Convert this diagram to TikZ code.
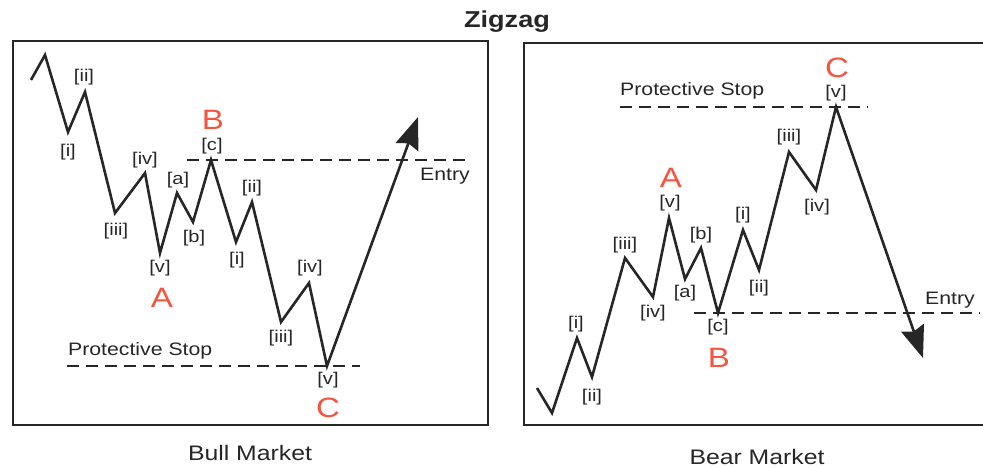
\documentclass[tikz,border=0pt]{standalone}
\usepackage{fontspec}
\setmainfont{Liberation Sans}[FakeStretch=1.18]
\usepackage{tikz}
\usetikzlibrary{arrows.meta}
\usepackage{tkz-euclide}

\definecolor{wavered}{RGB}{244,84,64}
\definecolor{inkgray}{RGB}{38,38,38}

\tikzset{
  wave/.style={line width=2.6pt, draw=inkgray, -{Stealth[length=32pt,width=24pt,inset=4pt]}},
  level/.style={line width=1.9pt, draw=inkgray, dash pattern=on 12pt off 7pt},
  panel/.style={line width=2.2pt, draw=inkgray},
  count/.style={text=inkgray, font=\fontsize{17}{17}\selectfont, inner sep=0pt},
  wavename/.style={text=wavered, font=\fontsize{28}{28}\selectfont, inner sep=0pt},
  note/.style={text=inkgray, font=\fontsize{18}{18}\selectfont, inner sep=0pt},
  market/.style={text=inkgray, font=\fontsize{21}{21}\selectfont, inner sep=0pt},
}

\begin{document}
\begin{tikzpicture}[x=1pt, y=-1pt]
                \useasboundingbox (0,0) rectangle (983,468);
                % bull market points
                \tkzDefPoints{31/80/L0, 45/55/L1, 68/132/Li, 85/92/Lii, 115/213/Liii, 145/173/Liv, 160/253/LA,
                  177/193/La, 193/222/Lb, 211/160/LB, 236/242/Lci, 252/202/Lcii, 281/322/Lciii, 309/283/Lciv,
                  327/366/LC, 418/117/Lend}
                % bear market points
                \tkzDefPoints{537/388/R0, 552/413/R1, 577/338/Ri, 592/377/Rii, 625/258/Riii, 653/297/Riv, 669/218/RA,
                  685/279/Ra, 701/248/Rb, 718/313/RB, 743/230/Rci, 759/270/Rcii, 789/152/Rciii, 816/190/Rciv,
                  836/107/RC, 923/358/Rend}
                \tkzDefPoints{187/160/Ls, 470/160/Le, 67/366/Lp, 360/366/Lq,
                  694/313/Rs, 980/313/Re, 620/107/Rp, 868/107/Rq}
                \tkzDefPoints{983/43/Rtr, 524/43/Rtl, 524/425/Rbl, 983/425/Rbr}

                \node[text=inkgray, font=\bfseries\fontsize{23}{23}\selectfont, inner sep=0pt] (title) at (507,22) {Zigzag};
                \draw[panel] (13,41) rectangle (488,425);
                \draw[panel] (Rtr) -- (Rtl) -- (Rbl) -- (Rbr);

                % bull market
                \draw[level] (Ls) -- (Le);
                \draw[level] (Lp) -- (Lq);
                \draw[wave] (L0) -- (L1) -- (Li) -- (Lii) -- (Liii) -- (Liv) -- (LA) -- (La) -- (Lb) -- (LB)
                  -- (Lci) -- (Lcii) -- (Lciii) -- (Lciv) -- (LC) -- (Lend);
                \node[count] (bulli) at (68,152) {[i]};
                \node[count] (bullii) at (84,77) {[ii]};
                \node[count] (bulliii) at (116,231) {[iii]};
                \node[count] (bulliv) at (145,160) {[iv]};
                \node[count] (bullv) at (160,268) {[v]};
                \node[count] (bulla) at (178,180) {[a]};
                \node[count] (bullb) at (194,238) {[b]};
                \node[count] (bullc) at (212,146) {[c]};
                \node[count] (bullci) at (237,260) {[i]};
                \node[count] (bullcii) at (252,188) {[ii]};
                \node[count] (bullciii) at (281,338) {[iii]};
                \node[count] (bullciv) at (310,268) {[iv]};
                \node[count] (bullcv) at (328,380) {[v]};
                \node[wavename] (bullA) at (162,298) {A};
                \node[wavename] (bullB) at (213,120) {B};
                \node[wavename] (bullC) at (328,408) {C};
                \node[note] (bullentry) at (445,176) {Entry};
                \node[note, anchor=west] (bullstop) at (68,351) {Protective Stop};
                \node[market] (bull) at (250,453) {Bull Market};

                % bear market
                \draw[level] (Rs) -- (Re);
                \draw[level] (Rp) -- (Rq);
                \draw[wave] (R0) -- (R1) -- (Ri) -- (Rii) -- (Riii) -- (Riv) -- (RA) -- (Ra) -- (Rb) -- (RB)
                  -- (Rci) -- (Rcii) -- (Rciii) -- (Rciv) -- (RC) -- (Rend);
                \node[count] (beari) at (576,324) {[i]};
                \node[count] (bearii) at (592,397) {[ii]};
                \node[count] (beariii) at (625,245) {[iii]};
                \node[count] (beariv) at (653,313) {[iv]};
                \node[count] (bearv) at (670,203) {[v]};
                \node[count] (beara) at (685,293) {[a]};
                \node[count] (bearb) at (701,235) {[b]};
                \node[count] (bearc) at (718,327) {[c]};
                \node[count] (bearci) at (743,215) {[i]};
                \node[count] (bearcii) at (759,288) {[ii]};
                \node[count] (bearciii) at (789,137) {[iii]};
                \node[count] (bearciv) at (817,207) {[iv]};
                \node[count] (bearcv) at (836,93) {[v]};
                \node[wavename] (bearA) at (671,178) {A};
                \node[wavename] (bearB) at (719,358) {B};
                \node[wavename] (bearC) at (837,68) {C};
                \node[note] (bearentry) at (950,300) {Entry};
                \node[note, anchor=west] (bearstop) at (620,91) {Protective Stop};
                \node[market] (bear) at (757,457) {Bear Market};
            \end{tikzpicture}
\end{document}
